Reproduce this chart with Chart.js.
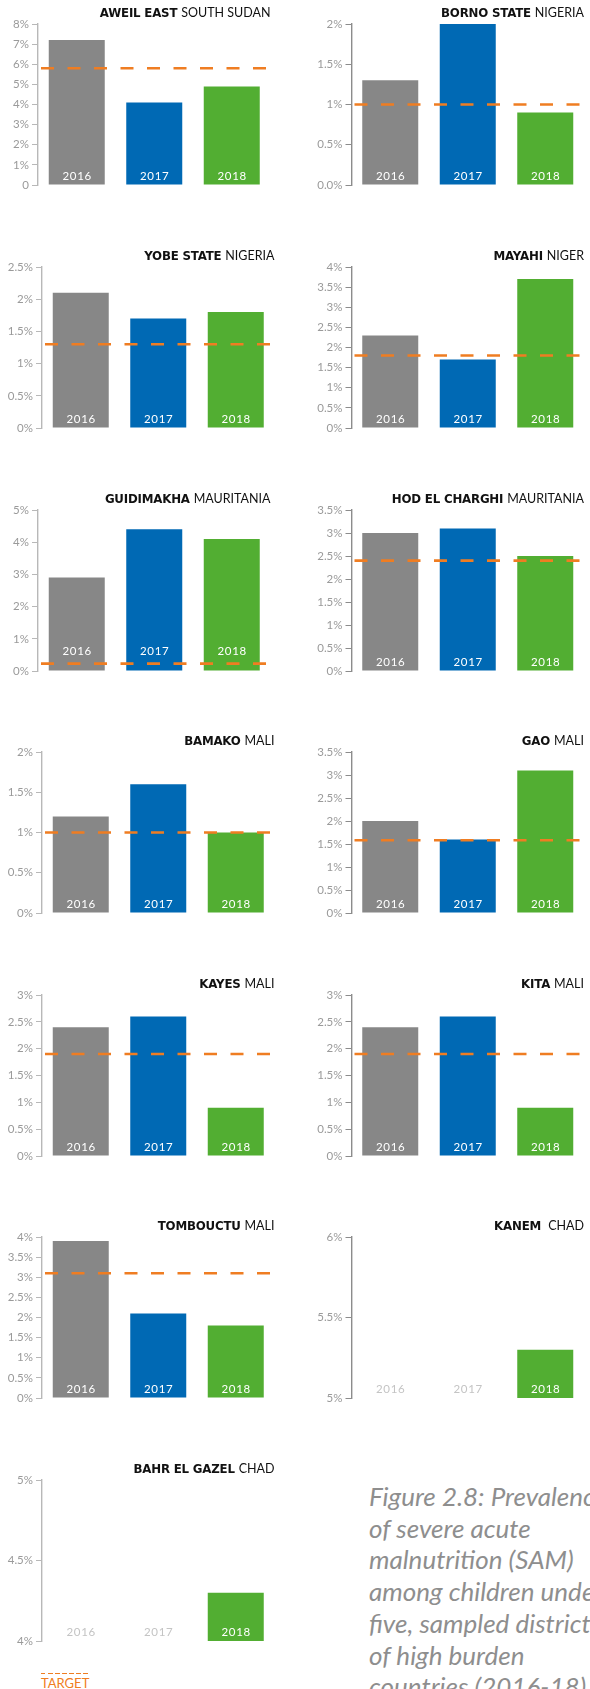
<!DOCTYPE html>
<html><head><meta charset="utf-8">
<script src="https://cdn.jsdelivr.net/npm/chart.js@4.4.1/dist/chart.umd.min.js"></script>
<style>
html,body{margin:0;padding:0;background:#fff;}
body{width:590px;height:1689px;overflow:hidden;position:relative;}
canvas{position:absolute;}
#caption{position:absolute;left:369px;top:1481px;font:italic 26px/31.7px Lato, sans-serif;color:#8e8e8e;white-space:nowrap;}
#legendLine{position:absolute;left:41px;top:1672.5px;width:49px;height:1.5px;background:repeating-linear-gradient(to right,#ef7d22 0 4.5px,transparent 4.5px 7px);}
#legendText{position:absolute;left:41px;top:1676.5px;font:13px/13px Lato,sans-serif;color:#ef7d22;}
</style></head><body>
<div id="caption">Figure 2.8: Prevalence<br>of severe acute<br>malnutrition (SAM)<br>among children under<br>five, sampled districts<br>of high burden<br>countries (2016-18)</div>
<div id="legendLine"></div><div id="legendText">TARGET</div>
<script>
// ---------- data ----------
const years = ['2016', '2017', '2018'];
const districts = ['AWEIL EAST', 'BORNO STATE', 'YOBE STATE', 'MAYAHI', 'GUIDIMAKHA', 'HOD EL CHARGHI', 'BAMAKO', 'GAO', 'KAYES', 'KITA', 'TOMBOUCTU', 'KANEM', 'BAHR EL GAZEL'];
const countries = ['SOUTH SUDAN', 'NIGERIA', 'NIGERIA', 'NIGER', 'MAURITANIA', 'MAURITANIA', 'MALI', 'MALI', 'MALI', 'MALI', 'MALI', ' CHAD', 'CHAD'];
const values2016 = [7.2, 1.3, 2.1, 2.3, 2.9, 3.0, 1.2, 2.0, 2.4, 2.4, 3.9, null, null];
const values2017 = [4.1, 2.0, 1.7, 1.7, 4.4, 3.1, 1.6, 1.6, 2.6, 2.6, 2.1, null, null];
const values2018 = [4.9, 0.9, 1.8, 3.7, 4.1, 2.5, 1.0, 3.1, 0.9, 0.9, 1.8, 5.3, 4.3];
const targets = [5.8, 1.0, 1.3, 1.8, 0.23, 2.4, 1.0, 1.58, 1.9, 1.9, 3.1, null, null];
const axisMin = [0, 0, 0, 0, 0, 0, 0, 0, 0, 0, 0, 5, 4];
const axisMax = [8, 2, 2.5, 4, 5, 3.5, 2, 3.5, 3, 3, 4, 6, 5];
const axisStep = [1, 0.5, 0.5, 0.5, 1, 0.5, 0.5, 0.5, 0.5, 0.5, 0.5, 0.5, 0.5];
const tickLabels = [
  ['0', '1%', '2%', '3%', '4%', '5%', '6%', '7%', '8%'],
  ['0.0%', '0.5%', '1%', '1.5%', '2%'],
  ['0%', '0.5%', '1%', '1.5%', '2%', '2.5%'],
  ['0%', '0.5%', '1%', '1.5%', '2%', '2.5%', '3%', '3.5%', '4%'],
  ['0%', '1%', '2%', '3%', '4%', '5%'],
  ['0%', '0.5%', '1%', '1.5%', '2%', '2.5%', '3%', '3.5%'],
  ['0%', '0.5%', '1%', '1.5%', '2%'],
  ['0%', '0.5%', '1%', '1.5%', '2%', '2.5%', '3%', '3.5%'],
  ['0%', '0.5%', '1%', '1.5%', '2%', '2.5%', '3%'],
  ['0%', '0.5%', '1%', '1.5%', '2%', '2.5%', '3%'],
  ['0%', '0.5%', '1%', '1.5%', '2%', '2.5%', '3%', '3.5%', '4%'],
  ['5%', '5.5%', '6%'],
  ['4%', '4.5%', '5%']
];

// ---------- style / layout ----------
const BAR_COLORS = ['#878787', '#0069b4', '#52ae32'];
const ORANGE = '#ef7d22';
const ROW0 = 24.3, ROW_STEP = 242.6, AREA_H = 161, AREA_W = 232.5;
const PAD_TOP = 22, PAD_BOTTOM = 10;
const chartLefts = [38, 351.5, 42, 351.5, 38, 351.5, 42, 351.5, 42, 351.5, 42, 351.5, 42];
const labelLift = [9, 9, 9, 9, 20, 9, 9, 9, 9, 9, 9, 9, 9];

const panelPlugin = {
  id: 'panel',
  afterDatasetsDraw(chart, args, opts) {
    const { ctx, chartArea } = chart;
    const x = chart.scales.x, y = chart.scales.y;
    const vals = chart.data.datasets[0].data;
    ctx.save();
    // year labels
    ctx.font = '11.5px Lato, sans-serif';
    ctx.letterSpacing = '0.7px';
    ctx.textAlign = 'center';
    ctx.textBaseline = 'middle';
    chart.data.labels.forEach((lab, i) => {
      ctx.fillStyle = vals[i] == null ? '#c4c4c4' : '#ffffff';
      ctx.fillText(lab, x.getPixelForValue(i) + 0.4, chartArea.bottom - opts.lift);
    });
    ctx.letterSpacing = '0px';
    // target line
    if (opts.target != null) {
      const py = y.getPixelForValue(opts.target);
      ctx.strokeStyle = ORANGE;
      ctx.lineWidth = 2.6;
      ctx.setLineDash([13, 13.5]);
      ctx.beginPath();
      ctx.moveTo(chartArea.left + 3, py);
      ctx.lineTo(chartArea.right - 4, py);
      ctx.stroke();
    }
    ctx.restore();
  },
  afterDraw(chart, args, opts) {
    const { ctx, chartArea } = chart;
    ctx.save();
    ctx.fillStyle = '#111';
    ctx.textBaseline = 'alphabetic';
    ctx.textAlign = 'right';
    const by = chartArea.top - 7;
    ctx.font = '12.5px Lato, sans-serif';
    const regW = ctx.measureText(opts.country).width;
    ctx.fillText(opts.country, chartArea.right, by);
    ctx.font = 'bold 11.8px "DejaVu Sans", sans-serif';
    ctx.letterSpacing = '-0.2px';
    ctx.fillText(opts.district + ' ', chartArea.right - regW, by);
    ctx.restore();
  }
};

districts.forEach((d, i) => {
  const col = i % 2, row = Math.floor(i / 2);
  const canvasLeft = col ? 310 : 0;
  const canvasW = col ? 280 : 284;
  const axisW = chartLefts[i] - canvasLeft;
  const chartTop = Math.round(ROW0 + ROW_STEP * row);
  const cv = document.createElement('canvas');
  cv.width = canvasW; cv.height = PAD_TOP + AREA_H + PAD_BOTTOM;
  cv.style.left = canvasLeft + 'px';
  cv.style.top = (chartTop - PAD_TOP) + 'px';
  cv.style.width = canvasW + 'px';
  cv.style.height = cv.height + 'px';
  document.body.appendChild(cv);
  const axisColor = col ? '#8c8c8c' : '#b8b8b8';
  const labels = tickLabels[i];
  new Chart(cv, {
    type: 'bar',
    data: {
      labels: years,
      datasets: [{
        data: [values2016[i], values2017[i], values2018[i]],
        backgroundColor: BAR_COLORS,
        borderWidth: 0,
        barPercentage: 56 / 77.5,
        categoryPercentage: 1
      }]
    },
    options: {
      responsive: false,
      animation: false,
      events: [],
      layout: { padding: { top: PAD_TOP, bottom: PAD_BOTTOM, left: 0, right: canvasW - axisW - AREA_W } },
      plugins: {
        legend: { display: false },
        tooltip: { enabled: false },
        title: { display: false },
        panel: { target: targets[i], lift: labelLift[i], district: d, country: countries[i] }
      },
      scales: {
        x: { display: false, offset: true },
        y: {
          min: axisMin[i], max: axisMax[i],
          afterFit(s) { s.width = axisW; },
          ticks: {
            stepSize: axisStep[i], autoSkip: false, padding: 3,
            color: '#9a9a9a', font: { family: 'Lato', size: 11.5 },
            callback: (v, idx) => labels[idx]
          },
          grid: { drawOnChartArea: false, drawTicks: true, tickLength: 6, color: axisColor, lineWidth: 1 },
          border: { display: true, color: axisColor, width: 1.4 }
        }
      }
    },
    plugins: [panelPlugin]
  });
});
</script>
</body></html>
